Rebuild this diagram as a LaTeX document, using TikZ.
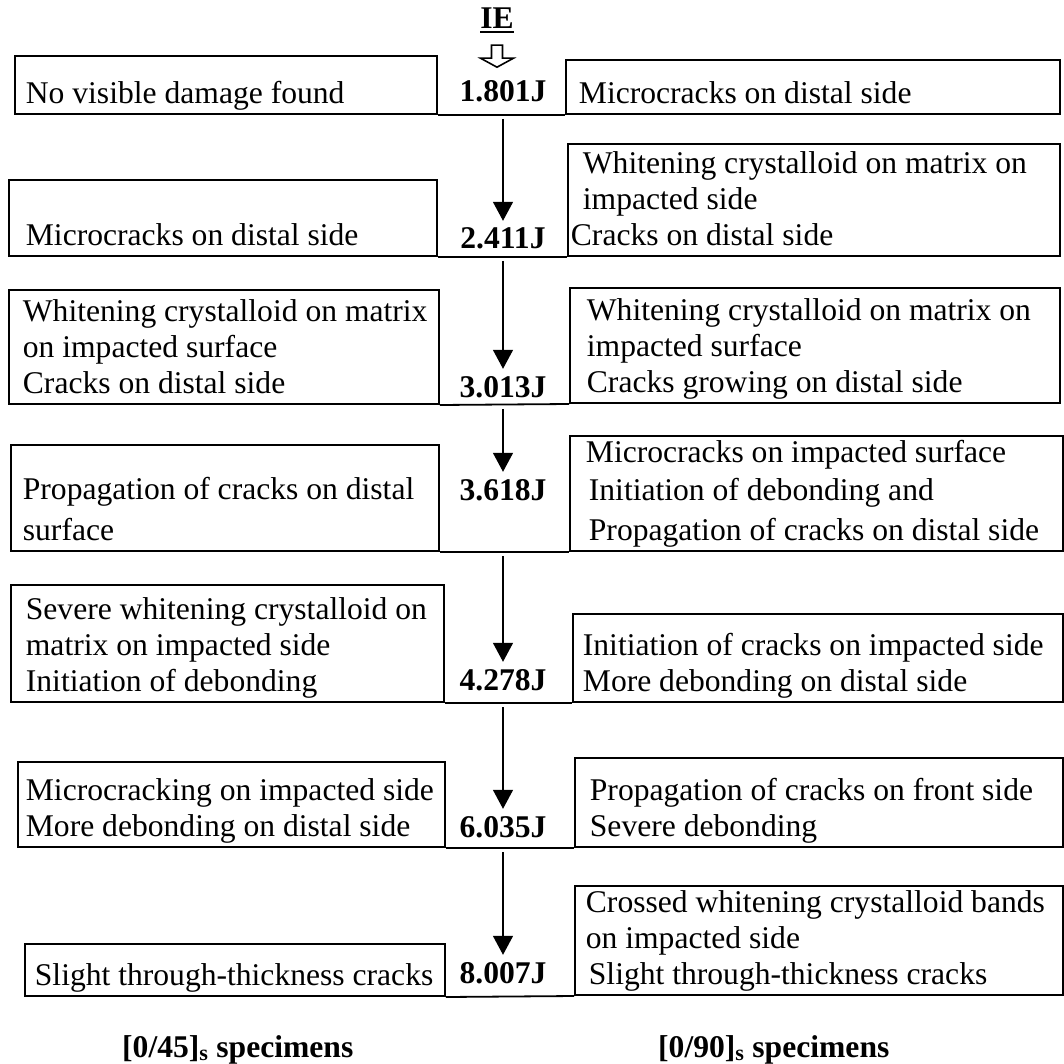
\documentclass[tikz,border=0pt]{standalone}
\usepackage{fontspec}
\setmainfont{Liberation Serif}
\usepackage{tikz}
\usetikzlibrary{arrows.meta}

% width, height, left padding, lines (text sits on the bottom of the box)
\newcommand{\celltext}[4]{\parbox[b][\dimexpr#2pt-10.8pt\relax][b]{#1pt}{\leftskip=#3pt\relax#4\strut}}
% heavy underline
\newcommand{\heavyul}[1]{\vtop{\hbox{#1}\kern2.5pt\hrule height 2pt}}

\begin{document}
\begin{tikzpicture}
[
	x = 1pt, y = -1pt,
	cell/.style	= {draw, line width = 1.8pt, inner sep = 0pt, anchor = south west, font = \fontsize{31.6}{36}\selectfont},
	energy/.style	= {inner sep = 0pt, anchor = base, text height = 20pt, text depth = 0pt, font = \fontsize{31.6}{36}\selectfont\bfseries},
	footer/.style	= {energy, anchor = base west},
	flow/.style	= {-{Triangle[length = 19pt, width = 20pt]}, line width = 1.6pt, shorten < = 4pt, shorten > = 8pt},
	rule/.style	= {line width = 1.8pt},
	hollow/.style	= {line width = 1.6pt, line join = miter},
]
	\useasboundingbox (0,0) rectangle (1064,1064);

	\node (IE) [energy] at (497,29) {\heavyul{IE}};
	%
	\node (E1) [energy] at (503,102) {1.801J};
	\node (E2) [energy] at (503,249) {2.411J};
	\node (E3) [energy] at (503,397) {3.013J};
	\node (E4) [energy] at (503,500) {3.618J};
	\node (E5) [energy] at (503,690) {4.278J};
	\node (E6) [energy] at (503,837) {6.035J};
	\node (E7) [energy] at (503,983) {8.007J};

	\node (L1) [cell] at (14,115) {\celltext{422}{58}{11}{No visible damage found}};
	\node (L2) [cell] at (8,257) {\celltext{428}{76}{17}{Microcracks on distal side}};
	\node (L3) [cell] at (8,405) {\celltext{430}{114}{14}{Whitening crystalloid on matrix\\on impacted surface\\Cracks on distal side}};
	\node (L4) [cell] at (10,552) {\celltext{428}{106}{12}{Propagation of cracks on distal\\[5pt]surface}};
	\node (L5) [cell] at (10,703) {\celltext{433}{117}{15}{Severe whitening crystalloid on\\matrix on impacted side\\Initiation of debonding}};
	\node (L6) [cell] at (17,848) {\celltext{427}{85}{8}{Microcracking on impacted side\\More debonding on distal side}};
	\node (L7) [cell] at (24,997) {\celltext{420}{52}{10}{Slight through-thickness cracks}};
	%
	\node (R1) [cell] at (565,115) {\celltext{494}{54}{13}{Microcracks on distal side}};
	\node (R2) [cell] at (567,257) {\celltext{492}{112}{15}{Whitening crystalloid on matrix on\\impacted side\\\hspace*{-12pt}Cracks on distal side}};
	\node (R3) [cell] at (569,404) {\celltext{490}{115}{17}{Whitening crystalloid on matrix on\\impacted surface\\Cracks growing on distal side}};
	\node (R4) [cell] at (569,552) {\celltext{493}{115}{16}{Microcracks on impacted surface\\[2pt]\hspace*{3pt}Initiation of debonding and\\[4pt]\hspace*{3pt}Propagation of cracks on distal side}};
	\node (R5) [cell] at (572,703) {\celltext{490}{88}{10}{Initiation of cracks on impacted side\\More debonding on distal side}};
	\node (R6) [cell] at (574,848) {\celltext{488}{89}{15}{Propagation of cracks on front side\\Severe debonding}};
	\node (R7) [cell] at (574,996) {\celltext{488}{109}{11}{Crossed whitening crystalloid bands\\on impacted side\\\hspace*{3pt}Slight through-thickness cracks}};

	\node (S45) [footer] at (122,1057) {[0/45]\textsubscript{s} specimens};
	\node (S90) [footer] at (658,1057) {[0/90]\textsubscript{s} specimens};

	\draw [rule] (L1.south east) -- (R1.south west);
	\draw [rule] (L2.south east) -- (R2.south west);
	\draw [rule] (L3.south east) -- (R3.south west);
	\draw [rule] (L4.south east) -- (R4.south west);
	\draw [rule] (L5.south east) -- (R5.south west);
	\draw [rule] (L6.south east) -- (R6.south west);
	\draw [rule] (L7.south east) -- (R7.south west);

	\draw [hollow] (IE.south) ++(-5.5,16) -- ++(0,13) -- ++(-11,0) -- ++(16.5,9) -- ++(16.5,-9) -- ++(-11,0) -- ++(0,-13) -- cycle;
	%
	\draw [flow] (E1 |- L1.south) -- (E2);
	\draw [flow] (E2 |- L2.south) -- (E3);
	\draw [flow] (E3 |- L3.south) -- (E4);
	\draw [flow] (E4 |- L4.south) -- (E5);
	\draw [flow] (E5 |- L5.south) -- (E6);
	\draw [flow] (E6 |- L6.south) -- (E7);

\end{tikzpicture}
\end{document}
